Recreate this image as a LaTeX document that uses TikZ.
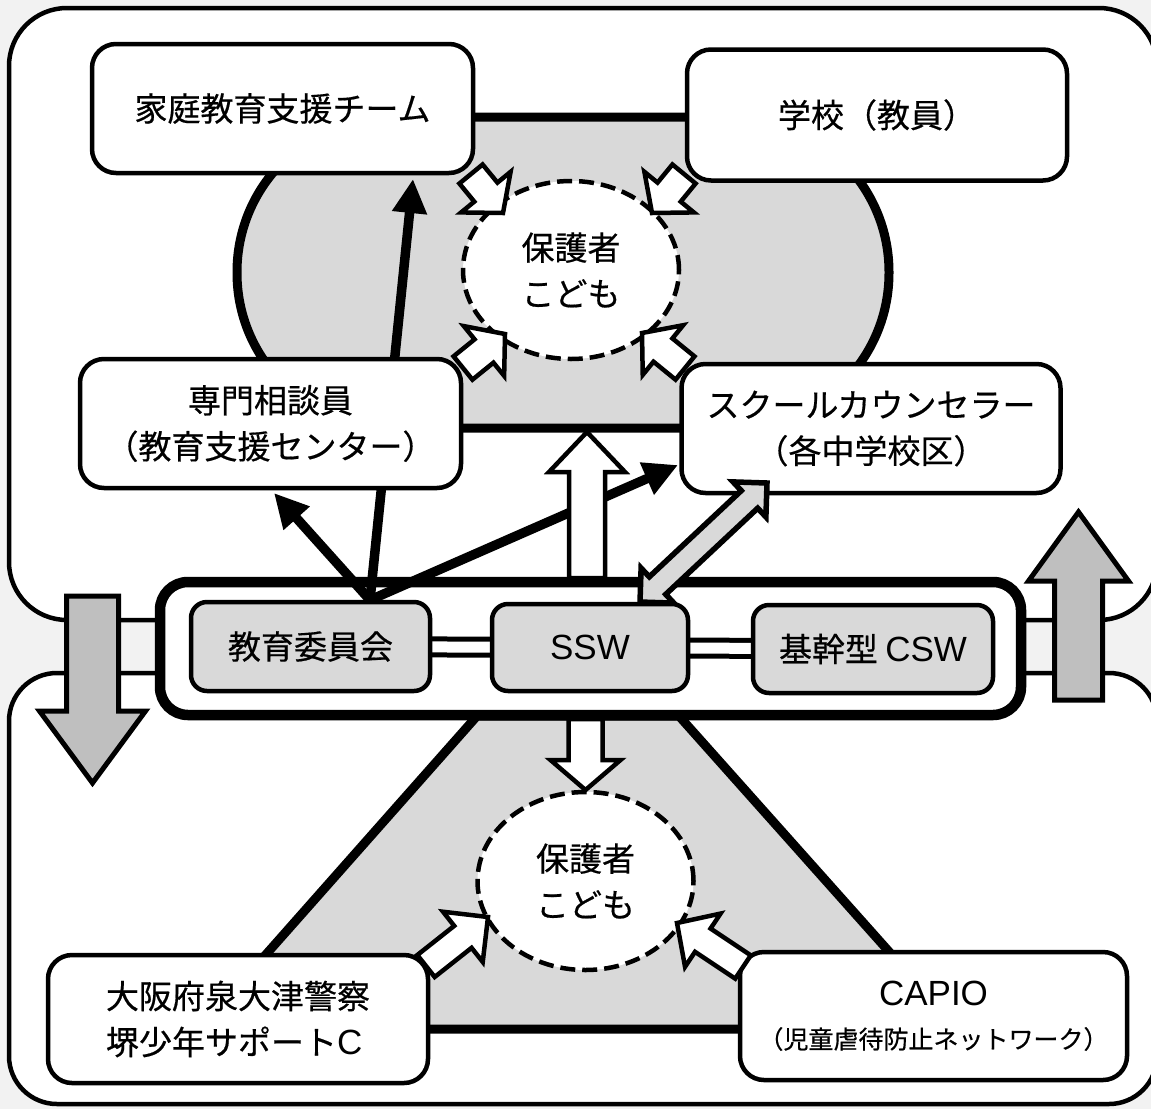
\documentclass[tikz,border=0pt]{standalone}
\usepackage{fontspec}
\setmainfont{Noto Sans CJK JP}[FakeBold=0.5]
\newfontfamily\latf{Liberation Sans}
\newcommand{\lat}{\latf\fontsize{35pt}{46pt}\selectfont}
\usetikzlibrary{arrows.meta,shapes.geometric}
\definecolor{bgc}{RGB}{242,242,242}
\definecolor{lg}{RGB}{217,217,217}
\definecolor{mg}{RGB}{191,191,191}
\pgfdeclarelayer{back}\pgfdeclarelayer{mid}\pgfdeclarelayer{front}
\pgfsetlayers{back,mid,main,front}
\newcommand{\bigf}{\fontsize{33pt}{46pt}\selectfont}
\newcommand{\smallf}{\fontsize{25pt}{30pt}\selectfont}
% block arrow: tail x,y ; tip x,y ; shaft half ; head half ; head length ; style
\newcommand{\blockarrow}[8]{%
\pgfmathsetmacro{\bdx}{#3-(#1)}%
\pgfmathsetmacro{\bdy}{#4-(#2)}%
\pgfmathsetmacro{\bL}{veclen(\bdx,\bdy)}%
\pgfmathsetmacro{\bux}{\bdx/\bL}%
\pgfmathsetmacro{\buy}{\bdy/\bL}%
\pgfmathsetmacro{\bbx}{#3-#7*(\bux)}%
\pgfmathsetmacro{\bby}{#4-#7*(\buy)}%
\draw[#8] ({#1-#5*(\buy)},{#2+#5*(\bux)}) -- ({\bbx-#5*(\buy)},{\bby+#5*(\bux)}) -- ({\bbx-#6*(\buy)},{\bby+#6*(\bux)}) -- (#3,#4) -- ({\bbx+#6*(\buy)},{\bby-#6*(\bux)}) -- ({\bbx+#5*(\buy)},{\bby-#5*(\bux)}) -- ({#1+#5*(\buy)},{#2-#5*(\bux)}) -- cycle;}
% double headed arrow: tip A ; tip B ; shaft half ; head half ; head length ; style
\newcommand{\dblarrow}[8]{%
\pgfmathsetmacro{\bdx}{#3-(#1)}%
\pgfmathsetmacro{\bdy}{#4-(#2)}%
\pgfmathsetmacro{\bL}{veclen(\bdx,\bdy)}%
\pgfmathsetmacro{\bux}{\bdx/\bL}%
\pgfmathsetmacro{\buy}{\bdy/\bL}%
\pgfmathsetmacro{\bax}{#1+#7*(\bux)}%
\pgfmathsetmacro{\bay}{#2+#7*(\buy)}%
\pgfmathsetmacro{\bbx}{#3-#7*(\bux)}%
\pgfmathsetmacro{\bby}{#4-#7*(\buy)}%
\draw[#8] (#1,#2) -- ({\bax-#6*(\buy)},{\bay+#6*(\bux)}) -- ({\bax-#5*(\buy)},{\bay+#5*(\bux)}) -- ({\bbx-#5*(\buy)},{\bby+#5*(\bux)}) -- ({\bbx-#6*(\buy)},{\bby+#6*(\bux)}) -- (#3,#4) -- ({\bbx+#6*(\buy)},{\bby-#6*(\bux)}) -- ({\bbx+#5*(\buy)},{\bby-#5*(\bux)}) -- ({\bax+#5*(\buy)},{\bay-#5*(\bux)}) -- ({\bax+#6*(\buy)},{\bay-#6*(\bux)}) -- cycle;}
\begin{document}
\begin{tikzpicture}[x=1pt,y=-1pt,
  box/.style={draw, line width=4.5pt, rounded corners=24pt, fill=white, inner sep=0pt, align=center, font=\bigf},
  gbox/.style={box, fill=lg, rounded corners=16pt},
  circ/.style={ellipse, draw, line width=4.5pt, dash pattern=on 15pt off 7pt, fill=white, minimum width=216pt, minimum height=178pt, inner sep=0pt, align=center, font=\bigf},
  blk/.style={line width=9.5pt, -{Triangle[length=34pt,width=33pt]}},
  warrow/.style={draw, line width=4.5pt, fill=white, line join=miter},
  garrow/.style={draw, line width=5pt, fill=mg, line join=miter},
  darrow/.style={draw, line width=5.5pt, fill=lg, line join=miter},
  region/.style={draw, line width=9pt, fill=lg},
  outer/.style={draw, line width=4.5pt, fill=white},
  dlout/.style={line width=21pt, black},
  dlin/.style={line width=11pt, white}
]
\useasboundingbox (0,0) rectangle (1151,1109);
\begin{pgfonlayer}{back}
  \fill[bgc] (0,0) rectangle (1151,1109);
  \path[outer, rounded corners=58pt] (9,8) rectangle (1157,620);
  \path[outer, rounded corners=48pt] (9,673) rectangle (1157,1104);
  \path[region, rounded corners=155pt] (237,117) rectangle (889,428);
  \path[region] (477,716) -- (679,716) -- (958,1029) -- (200,1029) -- cycle;
  \path[draw, line width=10.5pt, fill=white, rounded corners=28pt] (160,582) rectangle (1021,715);
\end{pgfonlayer}

% nodes
\node[box, minimum width=381pt, minimum height=129pt] (kt) at (282.5,108.5) {家庭教育支援チーム};
\node[box, minimum width=380pt, minimum height=131pt] (gk) at (877,115) {学校（教員）};
\node[box, minimum width=381pt, minimum height=129pt] (sm) at (270.5,423.5) {専門相談員\\（教育支援センター）};
\node[box, minimum width=379pt, minimum height=129pt] (sc) at (871,428.5) {スクールカウンセラー\\（各中学校区）};
\node[circ] (h1) at (571,270) {保護者\\こども};
\node[gbox, minimum width=239pt, minimum height=89pt] (iinkai) at (310.5,646.5) {教育委員会};
\node[gbox, minimum width=196pt, minimum height=87pt] (ssw) at (590,647.5) {{\lat SSW}};
\node[gbox, minimum width=240pt, minimum height=88pt] (csw) at (873,649) {基幹型 {\lat CSW}};
\node[circ] (h2) at (585.5,881) {保護者\\こども};
\node[box, align=left, minimum width=380pt, minimum height=128pt] (pol) at (238,1019) {大阪府泉大津警察\\堺少年サポート{\lat C}};
\node[box, minimum width=387pt, minimum height=128pt] (cap) at (933.5,1016) {{\lat CAPIO}\\[-3pt]{\smallf （児童虐待防止ネットワーク）}};

\coordinate (ek) at (370,600);
\coordinate (tkt) at (413,179);
\coordinate (tsm) at (274,493);
\coordinate (tsc) at (678,465);

\begin{pgfonlayer}{mid}
  \draw[blk] (ek) -- (tkt);
  \draw[blk] (ek) -- (tsm);
  \draw[blk] (ek) -- (tsc);
  \draw[dlout] (iinkai.center) -- (ssw.center);
  \draw[dlin] (iinkai.center) -- (ssw.center);
  \draw[dlout] (ssw.center) -- (csw.center);
  \draw[dlin] (ssw.center) -- (csw.center);
\end{pgfonlayer}

\begin{pgfonlayer}{front}
  % small white arrows to upper circle
  \blockarrow{471}{174}{503}{213}{15}{32}{27}{warrow}
  \blockarrow{684}{174}{652}{213}{15}{32}{27}{warrow}
  \blockarrow{463}{368}{505}{334}{15}{32}{27}{warrow}
  \blockarrow{685}{368}{642}{333}{15}{32}{27}{warrow}
  % lower white arrows
  \blockarrow{426}{966}{488}{917}{14}{32}{32}{warrow}
  \blockarrow{743}{967}{677}{923}{14}{32}{31}{warrow}
  % big white arrows
  \blockarrow{587}{578}{587}{432}{18}{38}{40}{warrow}
  \blockarrow{585.5}{719}{585.5}{790}{17}{35}{30}{warrow}
  % grey arrows
  \blockarrow{92.5}{596}{92.5}{783}{26}{53}{72}{garrow}
  \blockarrow{1078.5}{700}{1078.5}{512}{24}{50}{69}{garrow}
  % double headed arrow
  \dblarrow{640}{602}{767}{483}{12}{24}{24}{darrow}
\end{pgfonlayer}
\end{tikzpicture}
\end{document}
